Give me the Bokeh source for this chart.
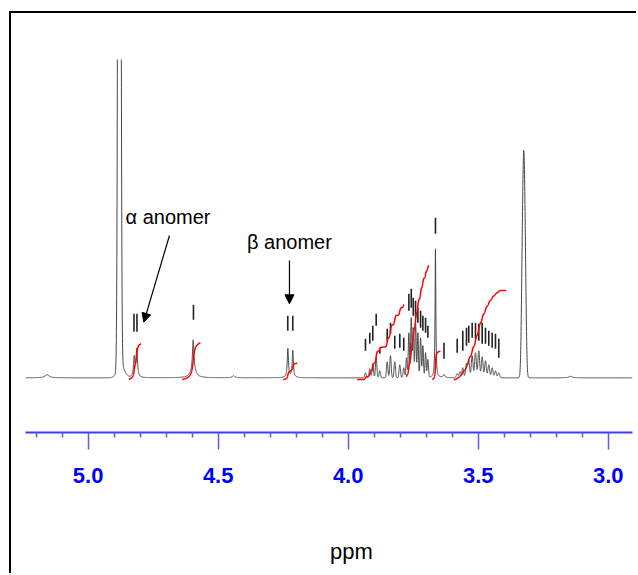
import numpy as np
from bokeh.plotting import figure
from bokeh.models import Range1d, FixedTicker, Label, Arrow, NormalHead, Title
from bokeh.embed import file_html
from bokeh.resources import INLINE

# ---------------- data ----------------
# axis
major_ticks = [5.0, 4.5, 4.0, 3.5, 3.0]
tick_labels = ["5.0", "4.5", "4.0", "3.5", "3.0"]
minor_ticks = [5.2, 5.1, 4.9, 4.8, 4.7, 4.6, 4.4, 4.3, 4.2, 4.1,
               3.9, 3.8, 3.7, 3.6, 3.4, 3.3, 3.2, 3.1]
ppm_left, ppm_right = 5.241, 2.9065
axis_title = "ppm"

# spectrum lines: centre (ppm), height (intensity), width (ppm), shape G/L
peak_ppm = [5.158, 4.880, 4.874, 4.823, 4.813, 4.596, 4.596, 4.441, 4.232, 4.213,
            3.9335, 3.9169, 3.9054, 3.8923, 3.8785, 3.8500, 3.8373, 3.8208, 3.8015, 3.7862,
            3.7758, 3.7666, 3.7574, 3.7497, 3.7408, 3.7319, 3.7215, 3.7127, 3.7023, 3.6935,
            3.6643, 3.6315,
            3.5808, 3.5700, 3.5592, 3.5450, 3.5362, 3.5231, 3.5104, 3.4977, 3.4846, 3.4719,
            3.4592, 3.4462, 3.4335, 3.4208,
            3.3304, 3.3246, 3.3188, 3.1450]
peak_height = [3, 1635, 12, 20, 28, 28, 10, 2, 29, 27,
               5, 9, 14, 20, 7, 16, 22, 16, 13, 10,
               20, 45, 60, 50, 56, 45, 40, 32, 25, 18,
               129, 3,
               4, 6, 10, 14, 17, 22, 25, 27, 21, 17,
               13, 10, 7, 5,
               92, 170, 92, 1.5]
peak_width = [0.0096, 0.0042, 0.0135, 0.0031, 0.0031, 0.0031, 0.0100, 0.0058, 0.0027, 0.0027,
              0.0027, 0.0027, 0.0027, 0.0027, 0.0027, 0.0027, 0.0027, 0.0027, 0.0027, 0.0027,
              0.0023, 0.0023, 0.0023, 0.0023, 0.0023, 0.0023, 0.0023, 0.0023, 0.0023, 0.0023,
              0.0017, 0.0038,
              0.0033, 0.0033, 0.0033, 0.0033, 0.0033, 0.0033, 0.0033, 0.0033, 0.0033, 0.0033,
              0.0033, 0.0033, 0.0033, 0.0033,
              0.0038, 0.0038, 0.0038, 0.0077]
peak_shape = ["L", "G", "G", "L", "L", "L", "L", "L", "L", "L",
              "G", "G", "G", "G", "G", "G", "G", "G", "G", "G",
              "G", "G", "G", "G", "G", "G", "G", "G", "G", "G",
              "L", "L",
              "G", "G", "G", "G", "G", "G", "G", "G", "G", "G",
              "G", "G", "G", "G",
              "G", "G", "G", "L"]

# peak-pick marks: position (ppm), lower and upper intensity
mark_ppm = [4.8238, 4.8123, 4.5950, 4.2323, 4.2131,
            3.9335, 3.9169, 3.9054, 3.8923, 3.8785, 3.8500, 3.8373, 3.8208, 3.8015, 3.7862,
            3.7666, 3.7574, 3.7497, 3.7408, 3.7319, 3.7215, 3.7127, 3.7023, 3.6935,
            3.6643, 3.6315,
            3.5808, 3.5592, 3.5450, 3.5362, 3.5231, 3.5104, 3.4977, 3.4846, 3.4719,
            3.4592, 3.4462, 3.4335, 3.4208]
mark_low = [46, 46, 58, 47, 47,
            27, 34, 37, 52, 24, 37, 44, 29, 30, 27,
            67, 70, 62, 60, 55, 50, 47, 45, 40,
            144, 19,
            25, 27, 32, 35, 40, 39, 37, 34, 34,
            32, 30, 29, 20]
mark_high = [64, 64, 73, 62, 62,
             39, 45, 52, 64, 30, 49, 55, 42, 44, 40,
             84, 89, 80, 77, 70, 67, 62, 60, 52,
             160, 35,
             39, 47, 50, 52, 55, 55, 54, 55, 50,
             47, 45, 44, 39]

# integral regions: start/end (ppm), start/end level
integ_start = [4.8438, 4.6385, 4.2500, 3.9654, 3.7758, 3.6769, 3.5938]
integ_end = [4.7962, 4.5681, 4.1962, 3.7862, 3.6900, 3.6450, 3.3923]
integ_y0 = [-1.7, -1.7, -1.7, -1.7, 0.6, -1.7, -1.7]
integ_y1 = [34, 35, 14.6, 73.3, 112.3, 26.6, 87.3]

# ---------------- build curves ----------------
def spectrum(x):
    y = np.zeros_like(x)
    for c, h, w, s in zip(peak_ppm, peak_height, peak_width, peak_shape):
        if s == "G":
            y += h * np.exp(-0.5 * ((x - c) / w) ** 2)
        else:
            y += h / (1.0 + ((x - c) / w) ** 2)
    return y

x_grid = np.linspace(ppm_left, ppm_right, 7000)
y_grid = spectrum(x_grid)

p = figure(width=627, height=562, x_range=Range1d(ppm_left, ppm_right),
           y_range=Range1d(-54.7, 318.3), output_backend="svg", toolbar_location=None,
           y_axis_location=None, min_border_left=14, min_border_right=6,
           min_border_top=46, min_border_bottom=143)
p.styles = {"margin-left": "9px", "margin-top": "11px",
            "border-left": "2px solid #000000", "border-top": "2px solid #000000"}
p.outline_line_color = None
p.grid.visible = False
p.background_fill_color = "white"
p.border_fill_color = "white"

p.line(x_grid, y_grid, line_color="#474747", line_width=1)

p.segment(x0=mark_ppm, y0=mark_low, x1=mark_ppm, y1=mark_high,
          line_color="#222222", line_width=1.6)

for a, b, y0, y1 in zip(integ_start, integ_end, integ_y0, integ_y1):
    xs = np.linspace(a, b, 300)
    s = spectrum(xs)
    c = np.cumsum(s)
    c = c / c[-1]
    p.line(xs, y0 + (y1 - y0) * c, line_color="#ff0000", line_width=1.5)

ax = p.xaxis[0]
ax.ticker = FixedTicker(ticks=major_ticks, minor_ticks=minor_ticks)
ax.major_label_overrides = {t: l for t, l in zip(major_ticks, tick_labels)}
ax.axis_line_color = "#3c3cff"
ax.axis_line_width = 2
ax.major_tick_line_color = "#5a5aff"
ax.major_tick_line_width = 1.5
ax.minor_tick_line_color = "#5a5aff"
ax.minor_tick_line_width = 1.5
ax.major_tick_in = 0
ax.major_tick_out = 17
ax.minor_tick_in = 0
ax.minor_tick_out = 5
ax.major_label_standoff = 18
ax.major_label_text_font = "Liberation Sans"
ax.major_label_text_font_style = "bold"
ax.major_label_text_font_size = "22px"
ax.major_label_text_color = "#0000ff"

p.add_layout(Title(text=axis_title, align="center", vertical_align="top",
                   standoff=0, padding=dict(top=53, right=0, bottom=0, left=45),
                   text_font="Liberation Sans", text_font_size="22px",
                   text_font_style="normal", text_color="black"), "below")

p.add_layout(Label(x=4.693, y=160.5, text="α anomer", text_align="center",
                   text_baseline="alphabetic", text_font="Liberation Sans",
                   text_font_size="20px", text_color="black"))
p.add_layout(Label(x=4.226, y=135.5, text="β anomer", text_align="center",
                   text_baseline="alphabetic", text_font="Liberation Sans",
                   text_font_size="20px", text_color="black"))

p.add_layout(Arrow(end=NormalHead(size=9, fill_color="black", line_color="black"),
                   x_start=4.6873, y_start=142.3, x_end=4.7861, y_end=55.6,
                   line_color="black", line_width=1.2))
p.add_layout(Arrow(end=NormalHead(size=9, fill_color="black", line_color="black"),
                   x_start=4.2258, y_start=117.3, x_end=4.2258, y_end=74,
                   line_color="black", line_width=1.2))

open("out.html", "w").write(file_html(p, INLINE))
